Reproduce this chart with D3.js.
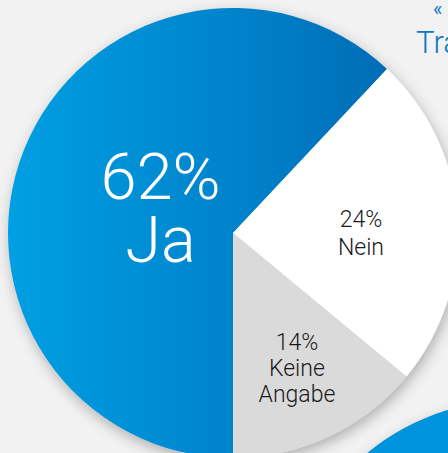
<!DOCTYPE html>
<html>
<head>
<meta charset="utf-8">
<script src="https://cdn.jsdelivr.net/npm/d3@7"></script>
<style>
  html, body { margin: 0; padding: 0; background: #f2f2f2; }
  svg { display: block; }
</style>
</head>
<body>
<svg id="chart"></svg>
<script>
// chart data
const labels = ["Ja", "Nein", "Keine Angabe"];
const values = [62, 24, 14];
const labelLines = [["62%", "Ja"], ["24%", "Nein"], ["14%", "Keine", "Angabe"]];

var width = 448, height = 453;
var cx = 233, cy = 233, radius = 225;

var svg = d3.select("#chart")
  .attr("width", width)
  .attr("height", height);

svg.append("rect")
  .attr("width", width).attr("height", height)
  .attr("fill", "#f2f2f2");

var defs = svg.append("defs");

// gradient coordinates are local to the translated pie group
var grad = defs.append("linearGradient")
  .attr("id", "blueGrad")
  .attr("gradientUnits", "userSpaceOnUse")
  .attr("x1", -radius).attr("y1", 0)
  .attr("x2", 150).attr("y2", 0);
grad.append("stop").attr("offset", "0%").attr("stop-color", "#009fe3");
grad.append("stop").attr("offset", "60%").attr("stop-color", "#0083cb");
grad.append("stop").attr("offset", "100%").attr("stop-color", "#006db7");

var shadow = defs.append("filter")
  .attr("id", "shadow")
  .attr("x", "-20%").attr("y", "-20%")
  .attr("width", "140%").attr("height", "140%");
shadow.append("feDropShadow")
  .attr("dx", 2).attr("dy", 5)
  .attr("stdDeviation", 7)
  .attr("flood-color", "#000")
  .attr("flood-opacity", 0.28);

var colors = ["url(#blueGrad)", "#ffffff", "#dadada"];

// second (cut off) chart in the lower right corner
svg.append("circle")
  .attr("cx", 511).attr("cy", 626).attr("r", radius)
  .attr("fill", "#0092da")
  .attr("filter", "url(#shadow)");

var pie = d3.pie()
  .sort(null)
  .startAngle(Math.PI)
  .endAngle(3 * Math.PI)
  .value(d => d);

var arc = d3.arc().innerRadius(0).outerRadius(radius);

var g = svg.append("g")
  .attr("transform", "translate(" + cx + "," + cy + ")");

var arcs = pie(values);

g.append("g")
  .attr("filter", "url(#shadow)")
  .selectAll("path")
  .data(arcs)
  .join("path")
  .attr("d", arc)
  .attr("fill", (d, i) => colors[i]);

// label placement (angle in degrees clockwise from 12 o'clock, distance from centre)
var labelPos = [
  {angle: 289.6, r: 77, size: 65, lh: 63, color: "#ffffff"},
  {angle: 90, r: 128, size: 23, lh: 28, color: "#1a1a1a"},
  {angle: 154.6, r: 149, size: 23, lh: 26, color: "#1a1a1a"}
];

arcs.forEach((d, i) => {
  var p = labelPos[i];
  var a = p.angle * Math.PI / 180;
  var x = Math.sin(a) * p.r, y = -Math.cos(a) * p.r;
  var lines = labelLines[i];
  lines.forEach((line, j) => {
    g.append("text")
      .attr("text-anchor", "middle")
      .attr("font-family", "Roboto, 'Liberation Sans', sans-serif")
      .attr("font-weight", 300)
      .attr("font-size", p.size)
      .attr("fill", p.color)
      .attr("x", x)
      .attr("y", y + (j - (lines.length - 1) / 2) * p.lh + p.size * 0.36)
      .text(line);
  });
});

// cut-off heading at the top right
svg.append("text")
  .attr("x", 433).attr("y", 16)
  .attr("font-family", "Roboto, 'Liberation Sans', sans-serif")
  .attr("font-size", 20)
  .attr("fill", "#0a78c2")
  .text("«");
svg.append("text")
  .attr("x", 416).attr("y", 53)
  .attr("font-family", "Roboto, 'Liberation Sans', sans-serif")
  .attr("font-weight", 300)
  .attr("font-size", 31)
  .attr("fill", "#0a78c2")
  .text("Tra");
</script>
</body>
</html>
